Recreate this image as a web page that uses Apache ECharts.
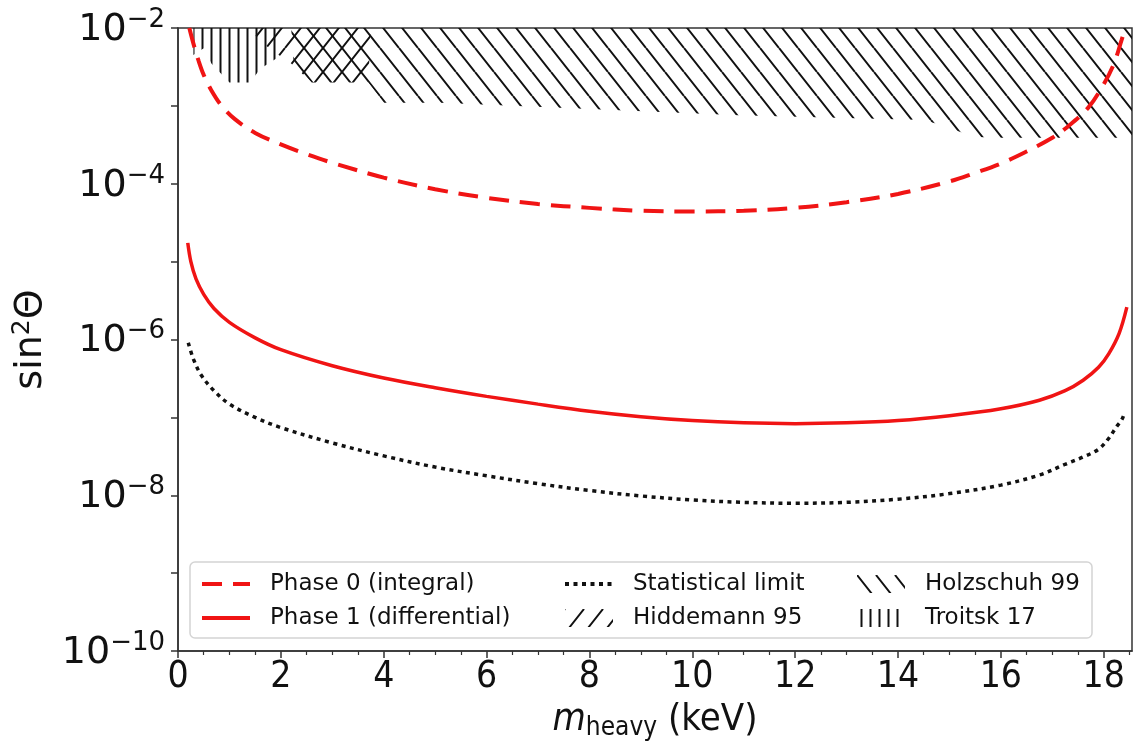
<!DOCTYPE html>
<html>
<head>
<meta charset="utf-8">
<script src="https://cdn.jsdelivr.net/npm/echarts@6/dist/echarts.min.js"></script>
<style>
  html, body { margin: 0; padding: 0; background: #fff; }
  #chart { width: 1134px; height: 748px; }
</style>
</head>
<body>
<div id="chart"></div>
<script>
// Sterile-neutrino sensitivity: heavy mass (keV) vs. mixing sin^2(theta)

// Phase 0 (integral) sensitivity
const phase0Mass = [0.22, 0.30, 0.40, 0.50, 0.65, 0.85, 1.10, 1.50, 2.00, 2.50, 3.00, 4.00, 5.00, 6.00, 7.00, 8.00, 9.00, 10.0, 11.0, 12.0, 13.0, 14.0, 15.0, 15.5, 16.0, 16.5, 17.0, 17.3, 17.7, 18.0, 18.2, 18.35, 18.42];
const phase0Mix = [1.0e-2, 6.3e-3, 3.8e-3, 2.5e-3, 1.58e-3, 1.0e-3, 6.8e-4, 4.5e-4, 3.2e-4, 2.4e-4, 1.86e-4, 1.2e-4, 8.5e-5, 6.6e-5, 5.5e-5, 4.9e-5, 4.5e-5, 4.4e-5, 4.5e-5, 4.9e-5, 5.8e-5, 7.4e-5, 1.07e-4, 1.38e-4, 1.82e-4, 2.6e-4, 3.9e-4, 5.4e-4, 9.5e-4, 1.9e-3, 3.5e-3, 7.1e-3, 1.0e-2];

// Phase 1 (differential) sensitivity
const phase1Mass = [0.19, 0.25, 0.35, 0.5, 0.7, 1.0, 1.5, 2.0, 3.0, 4.0, 5.0, 6.0, 7.0, 8.0, 9.0, 10.0, 11.0, 12.0, 13.0, 14.0, 15.0, 16.0, 16.75, 17.25, 17.6, 17.9, 18.1, 18.3, 18.45];
const phase1Mix = [1.74e-5, 1.0e-5, 6.0e-6, 3.8e-6, 2.5e-6, 1.66e-6, 1.05e-6, 7.4e-7, 4.6e-7, 3.2e-7, 2.4e-7, 1.86e-7, 1.48e-7, 1.2e-7, 1.02e-7, 9.1e-8, 8.5e-8, 8.3e-8, 8.5e-8, 9.1e-8, 1.05e-7, 1.29e-7, 1.66e-7, 2.2e-7, 3.0e-7, 4.4e-7, 6.6e-7, 1.2e-6, 2.6e-6];

// Statistical limit
const statMass = [0.2, 0.3, 0.45, 0.7, 1.0, 1.5, 2.0, 3.0, 4.0, 5.0, 6.0, 7.0, 8.0, 9.0, 10.0, 11.0, 12.0, 13.0, 14.0, 15.0, 16.0, 16.75, 17.25, 17.6, 17.9, 18.1, 18.25, 18.35, 18.41];
const statMix = [9.1e-7, 5.6e-7, 3.5e-7, 2.2e-7, 1.48e-7, 1.0e-7, 7.4e-8, 4.7e-8, 3.2e-8, 2.3e-8, 1.78e-8, 1.41e-8, 1.15e-8, 9.8e-9, 8.7e-9, 8.1e-9, 7.9e-9, 8.1e-9, 8.9e-9, 1.05e-8, 1.35e-8, 1.82e-8, 2.5e-8, 3.1e-8, 3.9e-8, 5.4e-8, 7.6e-8, 9.3e-8, 1.17e-7];

// Excluded regions (lower boundary; each region extends up to the top of the plot)
const hiddemannMass = [1.35, 1.7, 2.0, 2.2, 2.6, 3.7, 3.75];
const hiddemannMix = [1.0e-2, 6.0e-3, 4.3e-3, 3.5e-3, 2.0e-3, 2.0e-3, 1.0e-2];

const holzschuhMass = [2.2, 2.25, 2.6, 3.7, 4.0, 5.1, 10.9, 14.5, 14.95, 15.45, 15.9, 18.55];
const holzschuhMix = [1.0e-2, 3.5e-3, 2.0e-3, 2.0e-3, 1.1e-3, 1.1e-3, 7.6e-4, 6.6e-4, 5.4e-4, 4.0e-4, 3.9e-4, 3.9e-4];

const troitskMass = [0.3, 0.5, 0.65, 1.0, 1.4, 1.6, 1.95, 2.0];
const troitskMix = [4.5e-3, 5.5e-3, 3.5e-3, 2.0e-3, 2.0e-3, 3.0e-3, 4.2e-3, 1.0e-2];

// Axis ticks
const xMajorTicks = [0, 2, 4, 6, 8, 10, 12, 14, 16, 18];
const xMinorTicks = [0.5, 1, 1.5, 2.5, 3, 3.5, 4.5, 5, 5.5, 6.5, 7, 7.5, 8.5, 9, 9.5, 10.5, 11, 11.5, 12.5, 13, 13.5, 14.5, 15, 15.5, 16.5, 17, 17.5, 18.5];
const yLabelExponents = [-10, -8, -6, -4, -2];

const RED = '#f01414';
const INK = '#111111';
const DASH = [20, 11];
const DOTS = [4, 4.5];

function pairs(xs, ys) { return xs.map((x, i) => [x, ys[i]]); }

// Hatch fill tile: '|' vertical, '\\' falling, '/' rising
function hatch(kind, lw) {
  const c = document.createElement('canvas');
  const w = kind === '|' ? 9 : 19;
  const h = kind === '|' ? 9 : 24;
  c.width = w; c.height = h;
  const g = c.getContext('2d');
  g.strokeStyle = INK;
  g.lineWidth = lw;
  g.beginPath();
  if (kind === '|') {
    g.moveTo(w / 2, 0); g.lineTo(w / 2, h);
  } else {
    for (let k = -1; k <= 1; k++) {
      if (kind === '\\') { g.moveTo(k * w, 0); g.lineTo(k * w + w, h); }
      else { g.moveTo(k * w + w, 0); g.lineTo(k * w, h); }
    }
  }
  g.stroke();
  return { image: c, repeat: 'repeat' };
}

const hatchBack = hatch('\\', 2);
const hatchFwd = hatch('/', 2);
const hatchVert = hatch('|', 2);

function region(name, xs, ys, pattern) {
  return {
    name: name,
    type: 'line',
    data: pairs(xs, ys),
    symbol: 'none',
    z: 1,
    color: INK,
    lineStyle: { width: 0, opacity: 0 },
    areaStyle: { origin: 'end', color: pattern, opacity: 1 },
    silent: true
  };
}

function curve(name, xs, ys, color, width, dash) {
  return {
    name: name, type: 'line', data: pairs(xs, ys),
    symbol: 'none', smooth: 0.35, z: 5, color: color,
    lineStyle: { color: color, width: width, type: dash || 'solid', cap: 'butt' }
  };
}

const chart = echarts.init(document.getElementById('chart'), null, { renderer: 'canvas' });

const legendText = { fontFamily: 'DejaVu Sans', fontSize: 23, color: INK, lineHeight: 24, padding: [0, 0, 0, 15] };
const hiddenMarker = { color: 'transparent', borderWidth: 0 };
function legendCol(left, items) {
  return {
    orient: 'vertical', left: left, top: 572, padding: 0,
    itemWidth: 48, itemHeight: 18, itemGap: 10,
    selectedMode: false,
    textStyle: legendText,
    data: items
  };
}

const option = {
  backgroundColor: '#fff',
  animation: false,
  grid: {
    left: 178, right: 2, top: 28, bottom: 97,
    outerBoundsMode: 'none', containLabel: false,
    show: true, borderColor: '#333', borderWidth: 1.5, backgroundColor: 'transparent'
  },
  graphic: [{
    type: 'rect', z: 3,
    shape: { x: 190, y: 562, width: 902, height: 76, r: 5 },
    style: { fill: '#fff', stroke: '#d4d4d4', lineWidth: 1.5 }
  }],
  legend: [
    legendCol(200, [{ name: 'Phase 0 (integral)', itemStyle: hiddenMarker, lineStyle: { width: 4, type: DASH } },
                    { name: 'Phase 1 (differential)', itemStyle: hiddenMarker, lineStyle: { width: 4 } }]),
    legendCol(563, [{ name: 'Statistical limit', itemStyle: hiddenMarker, lineStyle: { width: 4, type: DOTS } },
                    { name: 'Hiddemann 95', icon: 'rect', itemStyle: { color: hatchFwd, borderWidth: 0 } }]),
    legendCol(857, [{ name: 'Holzschuh 99', icon: 'rect', itemStyle: { color: hatchBack, borderWidth: 0 } },
                    { name: 'Troitsk 17', icon: 'rect', itemStyle: { color: hatchVert, borderWidth: 0 } }])
  ],
  xAxis: [{
    type: 'value', min: 0, max: 18.55,
    axisLine: { lineStyle: { color: '#333', width: 1.5 } },
    axisTick: { customValues: xMajorTicks, length: 7, lineStyle: { color: '#333', width: 1.5 } },
    axisLabel: {
      customValues: xMajorTicks, margin: 8,
      fontFamily: 'DejaVu Sans Condensed, DejaVu Sans', fontSize: 37, color: INK
    },
    splitLine: { show: false },
    name: '{i|m}{s|heavy}{n| (keV)}',
    nameLocation: 'middle', nameGap: 46,
    nameTextStyle: {
      rich: {
        i: { fontFamily: 'DejaVu Sans Condensed, DejaVu Sans', fontStyle: 'italic', fontSize: 38, color: INK, lineHeight: 42, verticalAlign: 'middle' },
        s: { fontFamily: 'DejaVu Sans Condensed, DejaVu Sans', fontSize: 26, color: INK, lineHeight: 22, verticalAlign: 'bottom' },
        n: { fontFamily: 'DejaVu Sans Condensed, DejaVu Sans', fontSize: 38, color: INK, lineHeight: 42, verticalAlign: 'middle' }
      }
    }
  }, {
    type: 'value', min: 0, max: 18.55, position: 'bottom',
    axisLine: { show: false },
    axisTick: { customValues: xMinorTicks, length: 4, lineStyle: { color: '#333', width: 1.2 } },
    axisLabel: { show: false },
    splitLine: { show: false }
  }],
  yAxis: {
    type: 'log', logBase: 10, min: 1e-10, max: 1e-2, interval: 1,
    axisLine: { show: true, lineStyle: { color: '#333', width: 1.5 } },
    axisTick: { show: true, length: 7, lineStyle: { color: '#333', width: 1.5 } },
    splitLine: { show: false },
    axisLabel: {
      margin: 13,
      formatter: function (v) {
        const e = Math.round(Math.log10(v));
        if (yLabelExponents.indexOf(e) < 0) return '';
        return '{b|10}{e|\u2212' + (-e) + '}';
      },
      rich: {
        b: { fontFamily: 'DejaVu Sans', fontSize: 38, color: INK, lineHeight: 42, verticalAlign: 'bottom' },
        e: { fontFamily: 'DejaVu Sans', fontSize: 26, color: INK, lineHeight: 18, verticalAlign: 'top' }
      }
    },
    name: '{t|sin}{p|2}{t|\u0398}',
    nameLocation: 'middle', nameGap: 128,
    nameTextStyle: {
      rich: {
        t: { fontFamily: 'DejaVu Sans', fontSize: 38, color: INK, lineHeight: 40, verticalAlign: 'bottom' },
        p: { fontFamily: 'DejaVu Sans', fontSize: 25, color: INK, lineHeight: 20, verticalAlign: 'top' }
      }
    }
  },
  series: [
    region('Hiddemann 95', hiddemannMass, hiddemannMix, hatchFwd),
    region('Holzschuh 99', holzschuhMass, holzschuhMix, hatchBack),
    region('Troitsk 17', troitskMass, troitskMix, hatchVert),
    curve('Statistical limit', statMass, statMix, INK, 3.5, DOTS),
    curve('Phase 1 (differential)', phase1Mass, phase1Mix, RED, 3.5),
    curve('Phase 0 (integral)', phase0Mass, phase0Mix, RED, 4, DASH)
  ]
};

chart.setOption(option);
</script>
</body>
</html>
